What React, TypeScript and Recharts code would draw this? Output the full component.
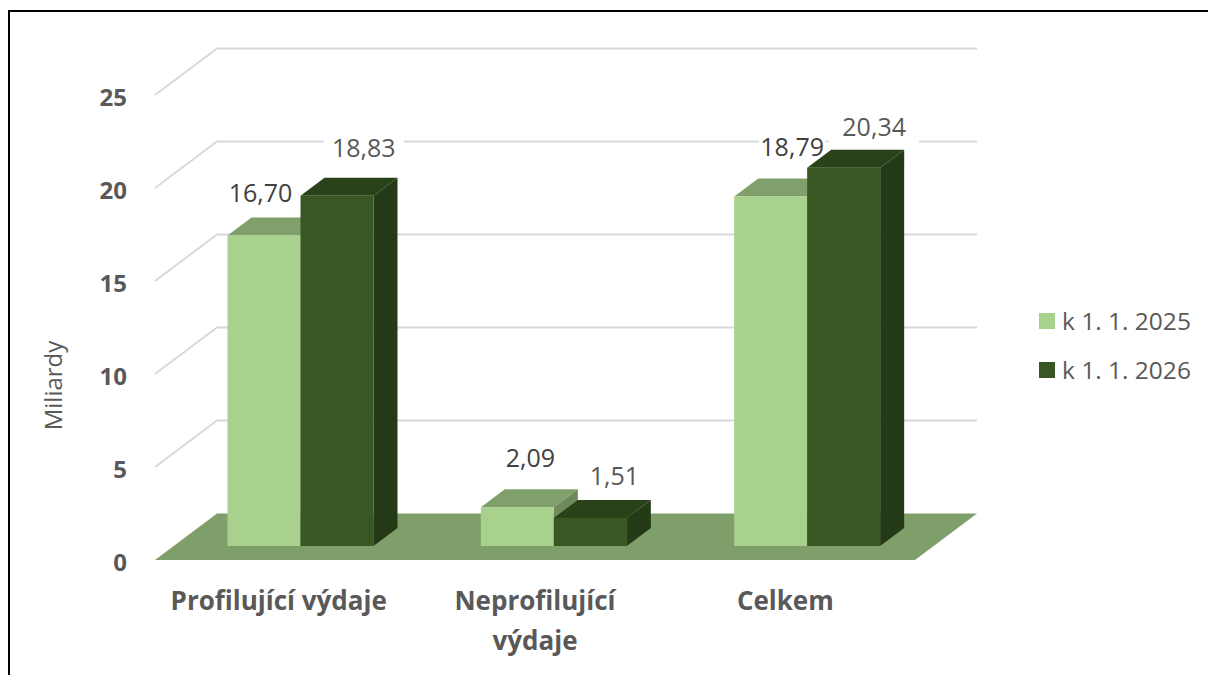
import React from 'react';
import { BarChart, Bar, XAxis, YAxis, CartesianGrid, Legend, LabelList, Text } from 'recharts';

const categories = ['Profilující výdaje', 'Neprofilující výdaje', 'Celkem'];
const values2025 = [16.7, 2.09, 18.79];
const values2026 = [18.83, 1.51, 20.34];
const yTicks = [0, 5, 10, 15, 20, 25];

const chartData = categories.map((name, i) => ({
  name,
  y2025: values2025[i],
  y2026: values2026[i],
}));

// 3D look of the old Excel chart
const WALL_DX = 62;
const WALL_DY = 46.5;
const BAR_SHIFT_X = 18.5;
const BAR_SHIFT_Y = -14;
const BAR_DX = 24;
const BAR_DY = 18;

const TEXT_FONT = '"Open Sans", sans-serif';
const GREY = '#595959';

const faces2025 = { front: '#A9D18E', top: '#80A06B', side: '#6E8A5C' };
const faces2026 = { front: '#385723', top: '#2A4219', side: '#253A17' };

// the labels were dragged by hand in the original, so every one has its own nudge
// box = white patch hiding the gridline behind the label
const labelNudge2025 = [
  { dx: 15, dy: -56.4, box: 0, boxDown: 0 },
  { dx: 31.5, dy: -63, box: 0, boxDown: 0 },
  { dx: 40, dy: -63.8, box: 66, boxDown: 4 },
];
const labelNudge2026 = [
  { dx: 45.3, dy: -62, box: 80, boxDown: 13 },
  { dx: 42.5, dy: -56, box: 0, boxDown: 0 },
  { dx: 49, dy: -54.7, box: 90, boxDown: 16 },
];
const tickNudge = [-3, 0, -3];

const gridLine = (props: any) => {
  const { x1, x2, y1, index } = props;
  if (y1 >= 559) {
    const floor = `${x1},${y1} ${x2},${y1} ${x2 + WALL_DX},${y1 - WALL_DY} ${x1 + WALL_DX},${y1 - WALL_DY}`;
    return <polygon key={index} points={floor} fill="#7F9F6A" />;
  }
  const path = `${x1},${y1} ${x1 + WALL_DX},${y1 - WALL_DY} ${x2 + WALL_DX},${y1 - WALL_DY}`;
  return <polyline key={index} points={path} fill="none" stroke="#D9D9D9" strokeWidth={2} />;
};

const makeBar = (faces: typeof faces2025) => (props: any) => {
  const { x, y, width, height } = props;
  const left = x + BAR_SHIFT_X;
  const right = left + width;
  const top = y + BAR_SHIFT_Y;
  const bottom = top + height;
  return (
    <g>
      <polygon
        points={`${left},${top} ${right},${top} ${right + BAR_DX},${top - BAR_DY} ${left + BAR_DX},${top - BAR_DY}`}
        fill={faces.top}
      />
      <polygon
        points={`${right},${top} ${right + BAR_DX},${top - BAR_DY} ${right + BAR_DX},${bottom - BAR_DY} ${right},${bottom}`}
        fill={faces.side}
      />
      <rect x={left} y={top} width={width} height={height} fill={faces.front} />
    </g>
  );
};

const makeLabel = (nudge: typeof labelNudge2025, color: string) => (props: any) => {
  const { x, y, width, value, index } = props;
  const n = nudge[index];
  const cx = x + width / 2 + n.dx;
  const cy = y + n.dy;
  return (
    <g>
      {n.box > 0 && <rect x={cx - n.box / 2} y={cy - 13} width={n.box} height={13 + n.boxDown} fill="#fff" />}
      <text x={cx} y={cy} dy="0.36em" textAnchor="middle" fontFamily={TEXT_FONT} fontSize={25} fill={color}>
        {Number(value).toFixed(2).replace('.', ',')}
      </text>
    </g>
  );
};

// fontSize has to be a px string, Text measures its words with it
const tickStyle = { fontFamily: TEXT_FONT, fontWeight: 700, fontSize: '26px' };

const CategoryTick = (props: any) => {
  const { x, y, payload, index } = props;
  return (
    <Text
      x={x + tickNudge[index]}
      y={y + 32}
      width={230}
      lineHeight={40}
      textAnchor="middle"
      verticalAnchor="start"
      style={tickStyle}
      fill={GREY}
    >
      {payload.value}
    </Text>
  );
};

const renderLegend = (props: any) => (
  <div style={{ fontFamily: TEXT_FONT, fontSize: 24.5, color: GREY }}>
    {props.payload.map((item: any) => (
      <div key={item.value} style={{ display: 'flex', alignItems: 'center', height: 49, whiteSpace: 'nowrap' }}>
        <span style={{ width: 16, height: 16, background: item.color, marginRight: 7 }} />
        {item.value}
      </div>
    ))}
  </div>
);

export default function App() {
  return (
    <div style={{ position: 'absolute', left: 0, top: 0, width: 1208, height: 675, overflow: 'hidden', background: '#fff' }}>
      <div
        style={{
          position: 'absolute',
          left: 8,
          top: 10,
          width: 1200,
          height: 665,
          borderLeft: '2px solid #000',
          borderTop: '2px solid #000',
          boxSizing: 'border-box',
        }}
      />
      <BarChart
        width={1208}
        height={675}
        data={chartData}
        margin={{ top: 95, right: 293, bottom: 0, left: 0 }}
        barSize={73}
        barGap={0}
        style={{ position: 'absolute', left: 0, top: 0 }}
      >
        <CartesianGrid vertical={false} horizontal={gridLine} />
        <XAxis
          dataKey="name"
          axisLine={false}
          tickLine={false}
          tickSize={0}
          tickMargin={0}
          height={115}
          interval={0}
          tick={<CategoryTick />}
        />
        <YAxis
          width={155}
          domain={[0, 25]}
          ticks={yTicks}
          axisLine={false}
          tickLine={false}
          tickSize={0}
          tickMargin={28}
          tick={{ fontFamily: TEXT_FONT, fontWeight: 700, fontSize: 24, fill: GREY, dy: 2 }}
          label={{
            value: 'Miliardy',
            angle: -90,
            position: 'insideLeft',
            offset: 53,
            dy: 58,
            style: { fontFamily: TEXT_FONT, fontSize: 24, fill: GREY, textAnchor: 'middle' },
          }}
        />
        <Legend
          layout="vertical"
          align="center"
          verticalAlign="middle"
          content={renderLegend}
          wrapperStyle={{ left: 1039, top: 296, width: 169, height: 0 }}
        />
        <Bar dataKey="y2025" name="k 1. 1. 2025" fill={faces2025.front} shape={makeBar(faces2025)} isAnimationActive={false}>
          <LabelList content={makeLabel(labelNudge2025, '#404040')} />
        </Bar>
        <Bar dataKey="y2026" name="k 1. 1. 2026" fill={faces2026.front} shape={makeBar(faces2026)} isAnimationActive={false}>
          <LabelList content={makeLabel(labelNudge2026, GREY)} />
        </Bar>
      </BarChart>
    </div>
  );
}
